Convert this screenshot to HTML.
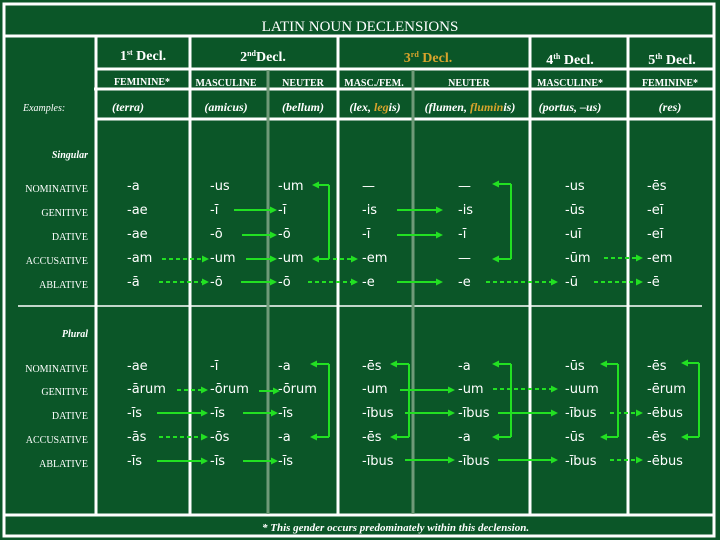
<!DOCTYPE html>
<html><head><meta charset="utf-8"><style>
html,body{margin:0;padding:0;background:#0b5628;}
svg{display:block}
.hd{font-family:"Liberation Serif",serif;font-weight:bold;fill:#fff}
.sm{font-family:"Liberation Serif",serif;font-weight:bold;font-size:10px;fill:#fff}
.ex{font-family:"Liberation Serif",serif;font-weight:bold;font-style:italic;font-size:12px;fill:#fff}
.lab{font-family:"Liberation Serif",serif;font-size:10px;fill:#fff}
.end{font-family:"DejaVu Sans",sans-serif;font-size:13px;fill:#fff}
</style></head><body>
<svg id="chart" width="720" height="540" viewBox="0 0 720 540">
<rect x="0" y="0" width="720" height="540" fill="#0b5628"/>
<g stroke="#fff" stroke-width="3" fill="none">
<rect x="4" y="4" width="710" height="532"/>
<line x1="4" y1="36" x2="714" y2="36"/>
<line x1="96" y1="69" x2="714" y2="69"/>
<line x1="94" y1="89" x2="714" y2="89"/>
<line x1="96" y1="119" x2="714" y2="119"/>
<line x1="96" y1="36" x2="96" y2="515"/>
<line x1="190" y1="36" x2="190" y2="515"/>
<line x1="338" y1="36" x2="338" y2="515"/>
<line x1="530" y1="36" x2="530" y2="515"/>
<line x1="628" y1="36" x2="628" y2="515"/>
<line x1="4" y1="515" x2="714" y2="515"/>
<line x1="18" y1="306" x2="702" y2="306" stroke-width="1.5"/>
</g>
<g stroke="#6f9a78" stroke-width="3">
<line x1="268" y1="70" x2="268" y2="514"/>
<line x1="413" y1="70" x2="413" y2="514"/>
</g>
<text x="360" y="31" text-anchor="middle" font-family="Liberation Serif,serif" font-size="15" fill="#fff">LATIN NOUN DECLENSIONS</text>
<g class="hd" font-size="14" text-anchor="middle">
<text x="143" y="60">1<tspan font-size="8" dy="-5">st</tspan><tspan dy="5"> Decl.</tspan></text>
<text x="263" y="61">2<tspan font-size="8" dy="-5">nd</tspan><tspan dy="5">Decl.</tspan></text>
<text x="428" y="62" style="fill:#d8a42c">3<tspan font-size="8" dy="-5">rd</tspan><tspan dy="5"> Decl.</tspan></text>
<text x="570" y="64">4<tspan font-size="8" dy="-5">th</tspan><tspan dy="5"> Decl.</tspan></text>
<text x="672" y="64">5<tspan font-size="8" dy="-5">th</tspan><tspan dy="5"> Decl.</tspan></text>
</g>
<g class="sm" text-anchor="middle">
<text x="142" y="85">FEMININE*</text><text x="226" y="86">MASCULINE</text><text x="303" y="86">NEUTER</text>
<text x="374" y="86">MASC./FEM.</text><text x="469" y="86">NEUTER</text><text x="570" y="86">MASCULINE*</text><text x="670" y="86">FEMININE*</text>
</g>
<text x="23" y="111" class="lab" font-style="italic">Examples:</text>
<g class="ex" text-anchor="middle">
<text x="128" y="111">(terra)</text><text x="226" y="111">(amicus)</text><text x="303" y="111">(bellum)</text>
<text x="375" y="111">(lex, <tspan style="fill:#d8a42c">leg</tspan>is)</text>
<text x="470" y="111">(flumen, <tspan style="fill:#d8a42c">flumin</tspan>is)</text>
<text x="570" y="111">(portus, –us)</text><text x="670" y="111">(res)</text>
</g>
<text x="88" y="158" class="lab" font-style="italic" font-weight="bold" text-anchor="end">Singular</text>
<text x="88" y="337" class="lab" font-style="italic" font-weight="bold" text-anchor="end">Plural</text>
<g id="cases" class="lab" text-anchor="end"></g>
<g id="endings" class="end"></g>
<g id="arrows"></g>
<text x="262" y="531" font-family="Liberation Serif,serif" font-style="italic" font-weight="bold" font-size="11" fill="#fff">* This gender occurs predominately within this declension.</text>
</svg>
<script>
const caseNames=["NOMINATIVE","GENITIVE","DATIVE","ACCUSATIVE","ABLATIVE"];
const singRowY=[190,214,238,262,286];
const plurRowY=[370,393,417,441,465];
const colX=[127,210,278,362,458,565,647];
const singEndings=[["-a","-us","-um","—","—","-us","-ēs"],["-ae","-ī","-ī","-is","-is","-ūs","-eī"],["-ae","-ō","-ō","-ī","-ī","-uī","-eī"],["-am","-um","-um","-em","—","-ūm","-em"],["-ā","-ō","-ō","-e","-e","-ū","-ē"]];
const plurEndings=[["-ae","-ī","-a","-ēs","-a","-ūs","-ēs"],["-ārum","-ōrum","-ōrum","-um","-um","-uum","-ērum"],["-īs","-īs","-īs","-ībus","-ībus","-ībus","-ēbus"],["-ās","-ōs","-a","-ēs","-a","-ūs","-ēs"],["-īs","-īs","-īs","-ībus","-ībus","-ībus","-ēbus"]];
const NS='http://www.w3.org/2000/svg';
const cg=document.getElementById('cases'),eg=document.getElementById('endings'),ag=document.getElementById('arrows');
function txt(g,x,y,s){const t=document.createElementNS(NS,'text');t.setAttribute('x',x);t.setAttribute('y',y);t.textContent=s;g.appendChild(t);return t;}
[singRowY,plurRowY].forEach((ys,b)=>{
 ys.forEach((y,i)=>{const t=txt(cg,88,y+2,caseNames[i]);
 
 });
 const E=b?plurEndings:singEndings;
 E.forEach((row,i)=>row.forEach((s,j)=>{const t=txt(eg,colX[j],ys[i],s);
 
 }));
});
const G='#22e022';
function line(x1,y1,x2,y2,dash){const l=document.createElementNS(NS,'line');l.setAttribute('x1',x1);l.setAttribute('y1',y1);l.setAttribute('x2',x2);l.setAttribute('y2',y2);l.setAttribute('stroke',G);l.setAttribute('stroke-width','2');if(dash)l.setAttribute('stroke-dasharray','4 3');ag.appendChild(l);return l;}
function head(x,y,dir){const p=document.createElementNS(NS,'polygon');const d=dir*7;p.setAttribute('points',`${x},${y} ${x-d},${y-3.5} ${x-d},${y+3.5}`);p.setAttribute('fill',G);ag.appendChild(p);}
function arrow(x1,x2,y,dash){const l=line(x1,y,x2-6,y,dash);
 
 
 head(x2,y,1);}
function bracket(x,tip,y1,y2){const l=line(x,y1,x,y2);
 
 
 line(x,y1,tip+6,y1);line(x,y2,tip+6,y2);head(tip,y1,-1);head(tip,y2,-1);}
// singular
bracket(329,312,185,259);
arrow(234,277,210);arrow(242,277,235);arrow(246,277,259);arrow(241,277,282);
arrow(162,209,259,1);arrow(159,209,282,1);arrow(333,358,259,1);arrow(308,358,282,1);
arrow(397,443,210);arrow(397,443,235);arrow(397,443,282);
bracket(511,492,184,259);
arrow(486,558,282,1);arrow(604,643,258,1);arrow(594,643,282,1);
// plural
arrow(177,208,390,1);arrow(157,208,413);arrow(159,208,437,1);arrow(157,208,461);
arrow(259,280,391);arrow(243,278,413);arrow(243,278,461);
bracket(329,310,364,437);bracket(409,390,364,437);
arrow(400,455,390);arrow(405,455,413);arrow(405,455,460);
bracket(511,492,364,437);
arrow(493,558,389,1);arrow(498,558,413);arrow(498,558,460);
bracket(618,600,364,437);
arrow(610,643,413,1);arrow(610,643,460,1);
bracket(699,681,363,437);
</script>
</body></html>
